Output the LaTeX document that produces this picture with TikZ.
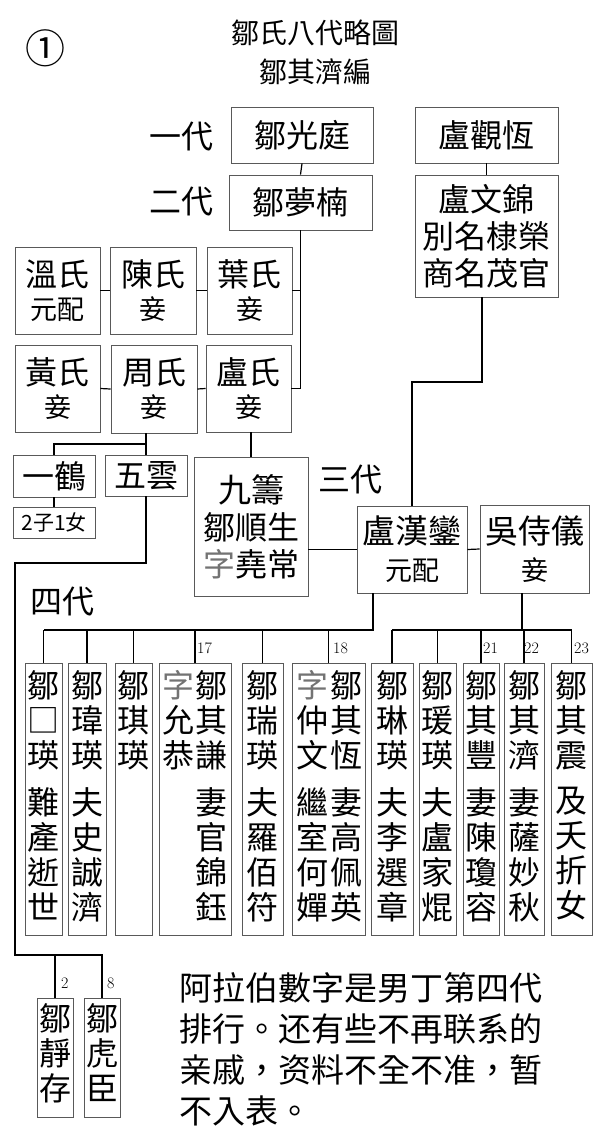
\documentclass[tikz,border=0pt]{standalone}
\usepackage{fontspec}
\newfontfamily\cjk{Noto Sans CJK TC}
\newcommand\fs[2]{\fontsize{#1}{#2}\selectfont}
\newcommand\bx[6]{\node[box,minimum width={(#4-#2)*1pt},minimum height={(#5-#3)*1pt}] (#1) at ({(#2+#4)/2},{(#3+#5)/2}) {#6};}
\begin{document}
\begin{tikzpicture}[x=1pt,y=-1pt,
  box/.style={draw=black!65,line width=0.9pt,inner sep=0pt,align=center,font=\cjk\fs{32}{37}},
  lbl/.style={inner sep=0pt,font=\cjk\fs{32}{37}},
  ct/.style={inner sep=0pt,anchor=north,align=center,font=\cjk\fs{32}{35}},
  num/.style={inner sep=0pt,anchor=west,font=\fs{16}{16}},
  ln/.style={line width=1.2pt,black},
  small/.style={font=\cjk\fs{27}{27}}]
\useasboundingbox[fill=white] (0,0) rectangle (600,1140);
% title
\node[lbl] (circ) at (45,48) {\fs{40}{40}①};
\node[lbl,font=\cjk\fs{28}{28}] (t1) at (315,33) {鄒氏八代略圖};
\node[lbl,font=\cjk\fs{28}{28}] (t2) at (315,72) {鄒其濟編};
% generation labels
\node[lbl] (g1) at (181,137) {一代};
\node[lbl] (g2) at (181,202) {二代};
\node[lbl] (g3) at (350,480) {三代};
\node[lbl] (g4) at (62,602) {四代};
% top
\bx{gz}{231}{107}{373}{163}{鄒光庭}
\bx{gh}{415}{107}{558}{163}{盧觀恆}
\bx{mn}{229}{175}{372}{230}{鄒夢楠}
\bx{wj}{415}{175}{558}{297}{盧文錦\\別名棣榮\\商名茂官}
% wives
\bx{wen}{15}{247}{100}{334}{溫氏\\[-4pt]{\fs{27}{27}元配}}
\bx{chen}{110}{247}{196}{334}{陳氏\\[-4pt]{\fs{27}{27}妾}}
\bx{ye}{207}{247}{292}{334}{葉氏\\[-4pt]{\fs{27}{27}妾}}
\bx{huang}{15}{345}{100}{432}{黃氏\\[-4pt]{\fs{27}{27}妾}}
\bx{zhou}{111}{345}{197}{433}{周氏\\[-4pt]{\fs{27}{27}妾}}
\bx{lu}{206}{345}{291}{432}{盧氏\\[-4pt]{\fs{27}{27}妾}}
% gen 3
\bx{yihe}{13}{455}{95}{497}{一鶴}
\bx{wuyun}{105}{455}{187}{496}{五雲}
\bx{zi}{13}{507}{95}{538}{\fs{21}{21}2子1女}
\bx{jc}{194}{457}{308}{596}{\fs{33}{42}九籌\\鄒順生\\{\color{black!55}字}堯常}
\bx{hl}{357}{506}{467}{593}{\fs{33}{38}盧漢鑾\\{\fs{27}{27}元配}}
\bx{wu}{480}{505}{589}{593}{\fs{33}{38}吳侍儀\\{\fs{27}{27}妾}}
% gen 4 boxes
\bx{c1}{25}{663}{62}{935}{}
\bx{c2}{68}{663}{106}{935}{}
\bx{c3}{115}{663}{152}{935}{}
\bx{c4}{159}{663}{231}{935}{}
\bx{c5}{242}{663}{283}{935}{}
\bx{c6}{292}{663}{365}{935}{}
\bx{c7}{371}{663}{413}{935}{}
\bx{c8}{419}{663}{456}{935}{}
\bx{c9}{463}{663}{499}{935}{}
\bx{c10}{504}{663}{544}{935}{}
\bx{c11}{551}{663}{592}{935}{}
\bx{js}{37}{998}{73}{1117}{}
\bx{hc}{84}{998}{120}{1117}{}
% column texts
\node[ct] at (c1.north|-0,670) {鄒\\□\\瑛};  \node[ct] at (c1.north|-0,787) {難\\產\\逝\\世};
\node[ct] at (c2.north|-0,670) {鄒\\瑋\\瑛};  \node[ct] at (c2.north|-0,787) {夫\\史\\誠\\濟};
\node[ct] at (c3.north|-0,670) {鄒\\琪\\瑛};
\node[ct] at (178,670) {{\color{black!55}字}\\允\\恭};
\node[ct] at (211,670) {鄒\\其\\謙};  \node[ct] at (211,787) {妻\\官\\錦\\鈺};
\node[ct] at (c5.north|-0,670) {鄒\\瑞\\瑛};  \node[ct] at (c5.north|-0,787) {夫\\羅\\佰\\符};
\node[ct] at (312,670) {{\color{black!55}字}\\仲\\文};  \node[ct] at (312,787) {繼\\室\\何\\嬋};
\node[ct] at (346,670) {鄒\\其\\恆};  \node[ct] at (346,787) {妻\\高\\佩\\英};
\node[ct] at (c7.north|-0,670) {鄒\\琳\\瑛};  \node[ct] at (c7.north|-0,787) {夫\\李\\選\\章};
\node[ct] at (c8.north|-0,670) {鄒\\瑗\\瑛};  \node[ct] at (c8.north|-0,787) {夫\\盧\\家\\焜};
\node[ct] at (c9.north|-0,670) {鄒\\其\\豐};  \node[ct] at (c9.north|-0,787) {妻\\陳\\瓊\\容};
\node[ct] at (c10.north|-0,670) {鄒\\其\\濟};  \node[ct] at (c10.north|-0,787) {妻\\薩\\妙\\秋};
\node[ct] at (c11.north|-0,670) {鄒\\其\\震};  \node[ct] at (c11.north|-0,787) {及\\夭\\折\\女};
\node[ct] at (js.north|-0,1003) {鄒\\靜\\存};
\node[ct] at (hc.north|-0,1003) {鄒\\虎\\臣};
% numbers
\node[num] (n17) at (197,648) {17};
\node[num] (n18) at (333,648) {18};
\node[num] (n21) at (483,648) {21};
\node[num] (n22) at (524,648) {22};
\node[num] (n23) at (574,648) {23};
\node[num] (n2) at (61,983) {2};
\node[num] (n8) at (107,983) {8};
% note
\node[inner sep=0pt,anchor=north west,align=left,font=\cjk\fs{33}{41}] (note) at (179,972)
  {阿拉伯數字是男丁第四代\\排行。还有些不再联系的\\亲戚，资料不全不准，暂\\不入表。};
% connectors
\draw[ln] (gz.south) -- (mn.north);
\draw[ln] (gh.south) -- (wj.north);
\coordinate (j2) at (mn.south |- lu.east);
\draw[ln] (mn.south) -- (j2) -- (lu.east);
\draw[ln] (ye.east) -- (ye.east -| mn.south);
\draw[ln] (wen.east) -- (chen.west);
\draw[ln] (chen.east) -- (ye.west);
\draw[ln] (huang.east) -- (zhou.west);
\draw[ln] (zhou.east) -- (lu.west);
\coordinate (k1) at (146,444);
\draw[ln] (k1 |- zhou.south) -- (k1);
\draw[ln] (yihe.north) |- (k1) -- (wuyun.north -| k1);
\draw[ln] (yihe.south) -- (zi.north);
\coordinate (w1) at (146,563);
\coordinate (w2) at (15,563);
\coordinate (w3) at (15,955);
\draw[ln] (wuyun.south -| w1) -- (w1) -- (w2) -- (w3) -| (hc.north);
\draw[ln] (js.north) -- (js.north |- w3);
\draw[ln] (lu.south -| jc.north) -- (jc.north);
\coordinate (m1) at (482,382);
\draw[ln] (wj.south -| m1) -- (m1) -| (hl.north);
\draw[ln] (jc.east |- hl.west) -- (hl.west);
\draw[ln] (hl.east) -- (wu.west);
\coordinate (b4) at (373,630);
\draw[ln] (b4 |- hl.south) -- (b4) -- (b4 -| c1.north);
\foreach \c in {c1,c2,c3,c4,c5,c6} \draw[ln] (\c.north) -- (\c.north |- b4);
\coordinate (b5) at (522,630);
\draw[ln] (b5 |- wu.south) -- (b5);
\draw[ln] (c7.north |- b5) -- (c11.north |- b5);
\foreach \c in {c7,c8,c9,c10,c11} \draw[ln] (\c.north) -- (\c.north |- b5);
\end{tikzpicture}
\end{document}
